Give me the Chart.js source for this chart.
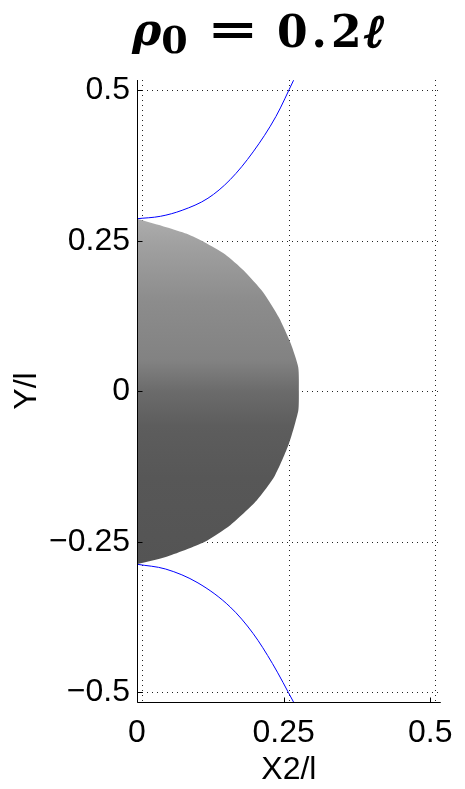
<!DOCTYPE html>
<html>
<head>
<meta charset="utf-8">
<script src="https://cdn.jsdelivr.net/npm/chart.js@4.4.1/dist/chart.umd.min.js"></script>
<style>
  body { margin: 0; background: #fff; }
  #wrap { position: relative; width: 465px; height: 789px; }
  #title span.part { position: absolute; top: 8px; font: bold 44px "DejaVu Serif"; line-height: 1; white-space: nowrap; color: #000; }
  #title i { font-style: italic; }
  #title sub { font-size: 38px; vertical-align: -8px; line-height: 0; }
  #eq { transform: scaleX(1.4); transform-origin: left center; }
  #num { letter-spacing: 4px; }
  .ell { display: inline-block; font-family: "DejaVu Serif"; font-weight: bold; font-size: 46px; transform: skewX(-12deg); -webkit-text-stroke: 1.6px #000; letter-spacing: 0; }
</style>
</head>
<body>
<div id="wrap">
  <canvas id="c" width="465" height="789"></canvas>
  <div id="title">
    <span class="part" style="left:132px"><i>ρ</i><sub>0</sub></span>
    <span class="part" id="eq" style="left:207px">=</span>
    <span class="part" id="num" style="left:277px">0.2<span class="ell">ℓ</span></span>
  </div>
</div>
<script>
var regionX = [0, 0.05, 0.085, 0.115, 0.15, 0.182, 0.215, 0.242, 0.262, 0.275, 0.276, 0.275, 0.259, 0.235, 0.204, 0.159, 0.115, 0.049, 0];
var regionY = [0.287, 0.273, 0.262, 0.248, 0.228, 0.201, 0.165, 0.123, 0.08, 0.04, 0, -0.032, -0.087, -0.14, -0.181, -0.222, -0.25, -0.275, -0.287];

// boundary curves (blue)
var upperX = [0, 0.04, 0.077, 0.121, 0.159, 0.198, 0.237, 0.267];
var upperY = [0.287, 0.291, 0.301, 0.321, 0.352, 0.398, 0.457, 0.517];
var lowerX = [0, 0.049, 0.104, 0.159, 0.198, 0.231, 0.267];
var lowerY = [-0.287, -0.295, -0.318, -0.358, -0.402, -0.452, -0.516];

var xTicks = [0, 0.25, 0.5];
var yTicks = [-0.5, -0.25, 0, 0.25, 0.5];

function pts(xs, ys) {
  var out = [];
  for (var i = 0; i < xs.length; i++) out.push({x: xs[i], y: ys[i]});
  return out;
}

function tickText(v) {
  return v < 0 ? '\u2212' + String(-v) : String(v);
}

// grey shading, light at the top and dark below the axis
function greyFill(context) {
  var chart = context.chart;
  var ys = chart.scales.y;
  if (!ys || !chart.chartArea) return '#777';
  var top = ys.getPixelForValue(Math.max.apply(null, regionY));
  var bot = ys.getPixelForValue(Math.min.apply(null, regionY));
  var g = chart.ctx.createLinearGradient(0, top, 0, bot);
  g.addColorStop(0, '#adadad');
  g.addColorStop(0.07, '#a1a1a1');
  g.addColorStop(0.24, '#8c8c8c');
  g.addColorStop(0.41, '#828282');
  g.addColorStop(0.5, '#6b6b6b');
  g.addColorStop(0.6, '#5d5d5d');
  g.addColorStop(0.75, '#575757');
  g.addColorStop(1, '#545454');
  return g;
}

var matlabAxes = {
  id: 'matlabAxes',
  beforeDatasetsDraw: function(chart) {
    var ctx = chart.ctx, a = chart.chartArea;
    var xs = chart.scales.x, ys = chart.scales.y;
    ctx.save();
    ctx.strokeStyle = '#222';
    ctx.lineWidth = 1;
    ctx.setLineDash([1, 4]);
    xTicks.forEach(function(v) {
      var px = Math.round(xs.getPixelForValue(v)) + 5.5;
      ctx.beginPath(); ctx.moveTo(px, a.top); ctx.lineTo(px, a.bottom); ctx.stroke();
    });
    yTicks.forEach(function(v) {
      var py = Math.round(ys.getPixelForValue(v)) + 0.5;
      ctx.beginPath(); ctx.moveTo(a.left + 5, py); ctx.lineTo(a.right, py); ctx.stroke();
    });
    ctx.restore();
  },
  afterDatasetsDraw: function(chart) {
    var ctx = chart.ctx, a = chart.chartArea;
    var xs = chart.scales.x, ys = chart.scales.y;
    var l = Math.round(a.left) + 0.5, b = Math.round(a.bottom) + 0.5;
    ctx.save();
    ctx.strokeStyle = '#000';
    ctx.lineWidth = 1;
    ctx.beginPath();
    ctx.moveTo(l, a.top); ctx.lineTo(l, b); ctx.lineTo(a.right, b);
    ctx.stroke();
    // inward tick marks
    ctx.beginPath();
    xTicks.forEach(function(v) {
      var px = Math.round(xs.getPixelForValue(v)) + 0.5;
      ctx.moveTo(px, b); ctx.lineTo(px, b - 5);
    });
    yTicks.forEach(function(v) {
      var py = Math.round(ys.getPixelForValue(v)) + 0.5;
      ctx.moveTo(l, py); ctx.lineTo(l + 5, py);
    });
    ctx.stroke();
    ctx.restore();
  }
};

var tickFont = {family: 'Liberation Sans', size: 32};

new Chart(document.getElementById('c'), {
  type: 'scatter',
  data: {
    datasets: [
      {data: pts(upperX, upperY), showLine: true, borderColor: '#0000ff', borderWidth: 1, pointRadius: 0, cubicInterpolationMode: 'monotone', fill: false, clip: false},
      {data: pts(lowerX, lowerY), showLine: true, borderColor: '#0000ff', borderWidth: 1, pointRadius: 0, cubicInterpolationMode: 'monotone', fill: false, clip: false},
      {data: pts(regionX, regionY), showLine: true, borderColor: 'rgba(0,0,0,0)', borderWidth: 0, pointRadius: 0, tension: 0.2, fill: 'shape', backgroundColor: greyFill}
    ]
  },
  options: {
    responsive: false,
    animation: false,
    layout: {padding: {top: 80, right: 15, bottom: 0, left: 0}},
    plugins: {legend: {display: false}, tooltip: {enabled: false}},
    scales: {
      x: {
        type: 'linear', min: 0, max: 0.518,
        grid: {display: false, drawTicks: false},
        border: {display: false},
        afterBuildTicks: function(s) { s.ticks = xTicks.map(function(v) { return {value: v}; }); },
        afterFit: function(s) { s.height = 87; },
        ticks: {padding: 12, color: '#000', font: tickFont, maxRotation: 0, callback: tickText},
        title: {display: true, text: 'X2/l', color: '#000', font: tickFont, padding: 0}
      },
      y: {
        type: 'linear', min: -0.5158, max: 0.5174,
        grid: {display: false, drawTicks: false},
        border: {display: false},
        afterBuildTicks: function(s) { s.ticks = yTicks.map(function(v) { return {value: v}; }); },
        afterFit: function(s) { s.width = 137; },
        ticks: {padding: 7, color: '#000', font: tickFont, callback: tickText},
        title: {display: true, text: 'Y/l', color: '#000', font: tickFont, padding: {top: 8, bottom: 0}}
      }
    }
  },
  plugins: [matlabAxes]
});
</script>
</body>
</html>
